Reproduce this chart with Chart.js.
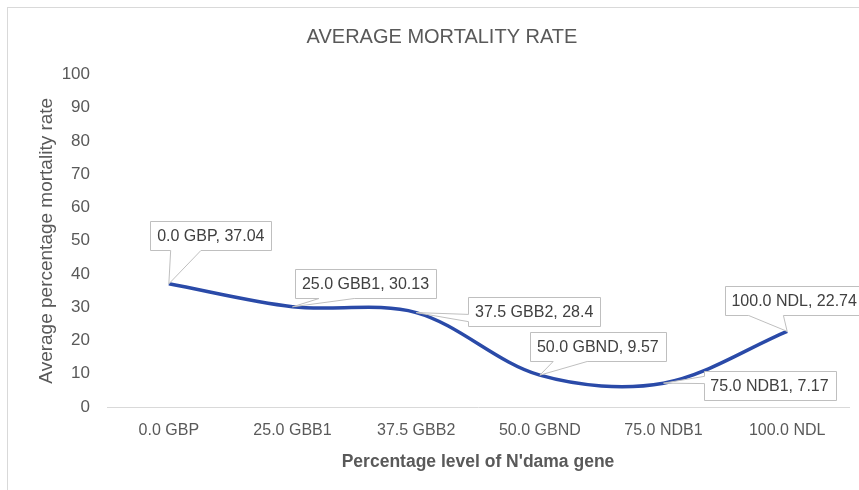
<!DOCTYPE html>
<html>
<head>
<meta charset="utf-8">
<script src="https://cdn.jsdelivr.net/npm/chart.js@4.4.1/dist/chart.umd.min.js"></script>
<style>
  html, body { margin: 0; padding: 0; background: #fff; overflow: hidden; }
  #wrap { position: relative; width: 859px; height: 490px; }
  #frame { position: absolute; left: 7px; top: 7px; width: 900px; height: 600px; border: 1px solid #d9d9d9; box-sizing: border-box; }
  canvas { position: absolute; left: 0; top: 0; }
</style>
</head>
<body>
<div id="wrap">
  <div id="frame"></div>
  <canvas id="chart" width="859" height="490"></canvas>
</div>
<script>
const categories = ['0.0 GBP', '25.0 GBB1', '37.5 GBB2', '50.0 GBND', '75.0 NDB1', '100.0 NDL']
const mortality = [37.04, 30.13, 28.4, 9.57, 7.17, 22.74]
const yMin = 0
const yMax = 100
const yStep = 10

const FONT = '"Liberation Sans Narrow", "Liberation Sans", Arial, sans-serif'

// where each callout box sits, relative to its point (box centre offset in px)
const labelOffsets = [[42, -48], [73, -23], [118, -1], [58, -29], [106, 2], [7, -31]]

// Excel-like rectangular callouts with a wedge pointing at the data point
const calloutPlugin = {
  id: 'callouts',
  afterDatasetsDraw(chart) {
    const ctx = chart.ctx
    const meta = chart.getDatasetMeta(0)
    ctx.save()
    ctx.font = '16px ' + FONT
    meta.data.forEach((pt, i) => {
      const text = categories[i] + ', ' + mortality[i]
      const w = Math.round(ctx.measureText(text).width + 14)
      const h = 29
      const cx = pt.x + labelOffsets[i][0]
      const cy = pt.y + labelOffsets[i][1]
      const x0 = Math.round(cx - w / 2) + 0.5, x1 = x0 + w
      const y0 = Math.round(cy - h / 2) + 0.5, y1 = y0 + h
      const dx = pt.x - cx, dy = pt.y - cy
      const inside = Math.abs(dx) < w / 2 && Math.abs(dy) < h / 2
      let side = null
      if (!inside) {
        if (Math.abs(dx) * h > Math.abs(dy) * w) side = dx < 0 ? 'left' : 'right'
        else side = dy < 0 ? 'top' : 'bottom'
      }
      const fr = (d) => d < 0 ? [2 / 12, 5 / 12] : [7 / 12, 10 / 12]

      ctx.beginPath()
      ctx.moveTo(x0, y0)
      if (side === 'top') {
        const f = fr(dx)
        ctx.lineTo(x0 + f[0] * w, y0)
        ctx.lineTo(pt.x, pt.y)
        ctx.lineTo(x0 + f[1] * w, y0)
      }
      ctx.lineTo(x1, y0)
      if (side === 'right') {
        const f = fr(dy)
        ctx.lineTo(x1, y0 + f[0] * h)
        ctx.lineTo(pt.x, pt.y)
        ctx.lineTo(x1, y0 + f[1] * h)
      }
      ctx.lineTo(x1, y1)
      if (side === 'bottom') {
        const f = fr(dx)
        ctx.lineTo(x0 + f[1] * w, y1)
        ctx.lineTo(pt.x, pt.y)
        ctx.lineTo(x0 + f[0] * w, y1)
      }
      ctx.lineTo(x0, y1)
      if (side === 'left') {
        const f = fr(dy)
        ctx.lineTo(x0, y0 + f[1] * h)
        ctx.lineTo(pt.x, pt.y)
        ctx.lineTo(x0, y0 + f[0] * h)
      }
      ctx.closePath()
      ctx.fillStyle = '#ffffff'
      ctx.fill()
      ctx.strokeStyle = '#bfbfbf'
      ctx.lineWidth = 1
      ctx.stroke()

      ctx.fillStyle = '#404040'
      ctx.textAlign = 'center'
      ctx.textBaseline = 'middle'
      ctx.fillText(text, cx, y0 + h / 2 + 1)
    })
    ctx.restore()
  }
}

const ctx = document.getElementById('chart').getContext('2d')

new Chart(ctx, {
  type: 'line',
  data: {
    labels: categories,
    datasets: [{
      label: 'Average mortality rate',
      data: mortality,
      borderColor: '#2a4aa8',
      borderWidth: 3.5,
      tension: 0.33,
      pointRadius: 0,
      fill: false
    }]
  },
  options: {
    responsive: false,
    animation: false,
    layout: {
      padding: { left: 35, right: 10, top: 0, bottom: 0 }
    },
    plugins: {
      legend: { display: false },
      tooltip: { enabled: false },
      title: {
        display: true,
        text: 'AVERAGE MORTALITY RATE',
        color: '#595959',
        font: { family: FONT, size: 20, weight: 'normal' },
        padding: { top: 25, bottom: 25.5 }
      }
    },
    scales: {
      x: {
        offset: true,
        grid: { display: false, drawTicks: false },
        border: { display: true, color: '#d9d9d9', width: 1 },
        ticks: {
          color: '#595959',
          font: { family: FONT, size: 16 },
          padding: 14,
          maxRotation: 0
        },
        title: {
          display: true,
          text: "Percentage level of N'dama gene",
          color: '#595959',
          font: { family: FONT, size: 17.5, weight: 'bold' },
          padding: { top: 0, bottom: 17.5 }
        },
        afterFit(scale) { scale.height = 83 }
      },
      y: {
        min: yMin,
        max: yMax,
        grid: { display: false, drawTicks: false },
        border: { display: false },
        ticks: {
          stepSize: yStep,
          color: '#595959',
          font: { family: FONT, size: 17 },
          padding: 17
        },
        title: {
          display: true,
          text: 'Average percentage mortality rate',
          color: '#595959',
          font: { family: FONT, size: 19 },
          padding: { top: 0, bottom: 0 }
        },
        afterFit(scale) { scale.width = 72 }
      }
    }
  },
  plugins: [calloutPlugin]
})
</script>
</body>
</html>
